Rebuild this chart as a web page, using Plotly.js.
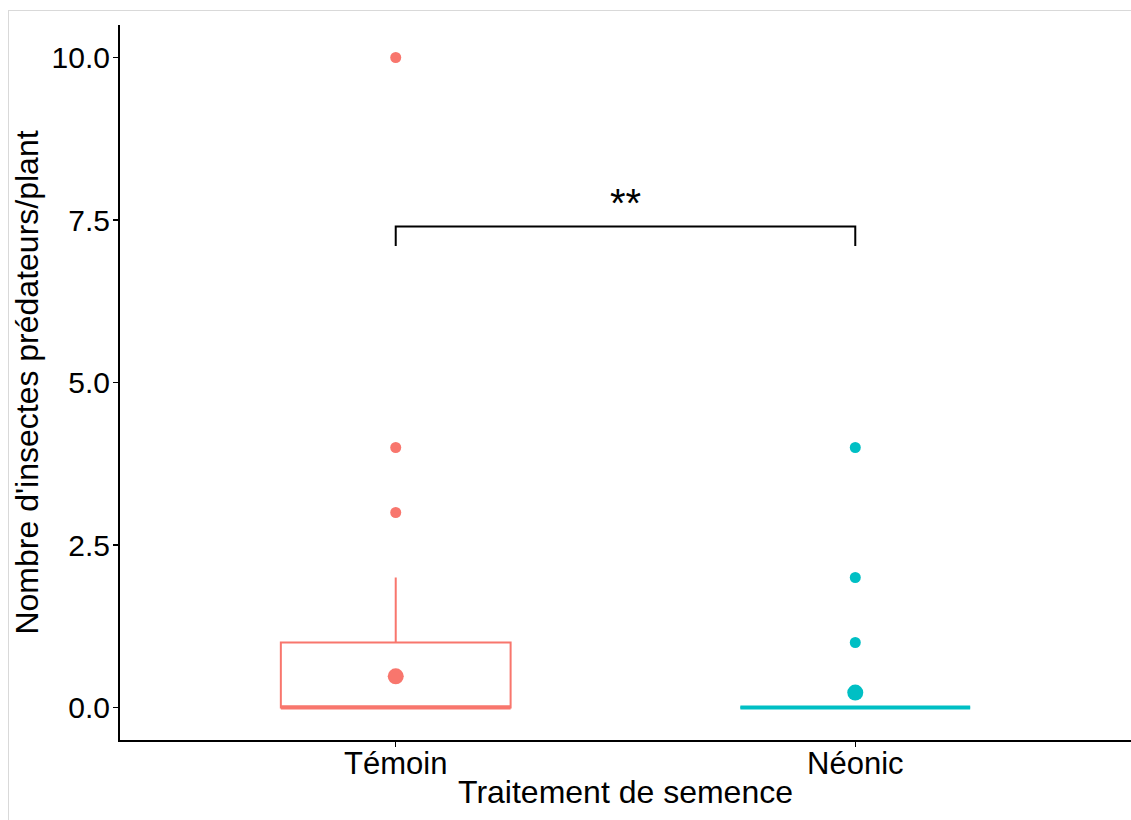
<!DOCTYPE html>
<html>
<head>
<meta charset="utf-8">
<script src="https://cdn.plot.ly/plotly-3.0.1.min.js"></script>
<style>
  html, body { margin: 0; padding: 0; background: #ffffff; }
  #frame { position: absolute; left: 8px; top: 10px; border: 1px solid #d9d9d9; border-right: none; border-bottom: none; }
  #chart { width: 1122px; height: 809px; }
</style>
</head>
<body>
<div id="frame"><div id="chart"></div></div>
<script>
// Treatment groups and their position on the x axis
const groups = ['Témoin', 'Néonic'];
const groupPos = [1, 2];
const groupColors = ['#F8766D', '#00BFC4'];

// Box summary statistics per group
const q1 = [0, 0];
const median = [0, 0];
const q3 = [1, 0];
const lowerFence = [0, 0];
const upperFence = [2, 0];
const means = [0.48, 0.23];

// Outlying observations per group
const outliersTemoin = [3, 4, 10];
const outliersNeonic = [1, 2, 4];
const outliers = [outliersTemoin, outliersNeonic];

// Significance bracket between the two groups
const bracketLevel = 7.4;
const bracketTip = 7.1;
const bracketLabel = '**';

const yTickVals = [0, 2.5, 5, 7.5, 10];
const yTickText = ['0.0', '2.5', '5.0', '7.5', '10.0'];

const boxWidth = 0.5;
const traces = [];

groups.forEach((g, i) => {
  const x0 = groupPos[i];
  traces.push({
    type: 'box',
    x: [x0],
    q1: [q1[i]], median: [median[i]], q3: [q3[i]],
    lowerfence: [lowerFence[i]], upperfence: [upperFence[i]],
    width: boxWidth,
    whiskerwidth: 0,
    boxpoints: false,
    fillcolor: 'rgba(255,255,255,0)',
    line: { color: groupColors[i], width: 2 },
    hoverinfo: 'skip',
    showlegend: false
  });
  // thicker median bar
  traces.push({
    type: 'scatter', mode: 'lines',
    x: [x0 - boxWidth / 2, x0 + boxWidth / 2],
    y: [median[i], median[i]],
    line: { color: groupColors[i], width: 4 },
    hoverinfo: 'skip', showlegend: false
  });
  // outliers
  traces.push({
    type: 'scatter', mode: 'markers',
    x: outliers[i].map(() => x0),
    y: outliers[i],
    marker: { color: groupColors[i], size: 11, line: { width: 0 } },
    hoverinfo: 'skip', showlegend: false
  });
  // group mean
  traces.push({
    type: 'scatter', mode: 'markers',
    x: [x0], y: [means[i]],
    marker: { color: groupColors[i], size: 16, line: { width: 0 } },
    hoverinfo: 'skip', showlegend: false
  });
});

// bracket
traces.push({
  type: 'scatter', mode: 'lines',
  x: [groupPos[0], groupPos[0], groupPos[1], groupPos[1]],
  y: [bracketTip, bracketLevel, bracketLevel, bracketTip],
  line: { color: '#000000', width: 2 },
  hoverinfo: 'skip', showlegend: false
});

const fontFamily = 'Liberation Sans, Arial, Helvetica, sans-serif';

const layout = {
  width: 1122, height: 809,
  margin: { l: 111, r: 0, t: 14, b: 80 },
  paper_bgcolor: '#ffffff',
  plot_bgcolor: '#ffffff',
  font: { family: fontFamily, color: '#000000' },
  xaxis: {
    range: [0.4, 2.6],
    tickvals: groupPos, ticktext: groups,
    ticks: 'outside', ticklen: 5, tickwidth: 1.5, tickcolor: '#000000',
    showline: true, linecolor: '#000000', linewidth: 2,
    showgrid: false, zeroline: false,
    ticklabelstandoff: -10,
    tickfont: { size: 31, color: '#000000' },
    title: { text: 'Traitement de semence', font: { size: 32, color: '#000000' }, standoff: 0 }
  },
  yaxis: {
    range: [-0.5, 10.5],
    tickvals: yTickVals, ticktext: yTickText,
    ticks: 'outside', ticklen: 5, tickwidth: 1.5, tickcolor: '#000000',
    showline: true, linecolor: '#000000', linewidth: 2,
    showgrid: false, zeroline: false,
    ticklabelstandoff: -3,
    tickfont: { size: 30, color: '#000000' },
    title: { text: "Nombre d'insectes prédateurs/plant", font: { size: 32, color: '#000000' }, standoff: 11 }
  },
  annotations: [{
    x: (groupPos[0] + groupPos[1]) / 2, y: bracketLevel,
    xref: 'x', yref: 'y', yanchor: 'bottom',
    text: bracketLabel, showarrow: false,
    font: { size: 40, color: '#000000', family: fontFamily }
  }]
};

Plotly.newPlot('chart', traces, layout, { displayModeBar: false, staticPlot: true });
</script>
</body>
</html>
